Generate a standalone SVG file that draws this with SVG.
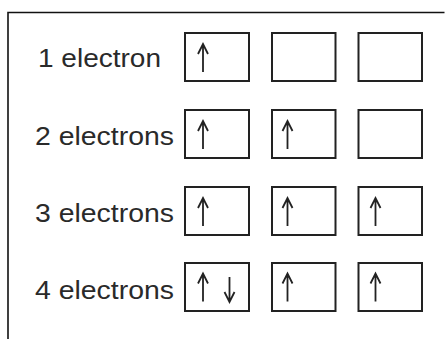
<svg xmlns="http://www.w3.org/2000/svg" width="445" height="339" viewBox="0 0 445 339">
<style>
.lbl{font-family:"Liberation Sans",Arial,sans-serif;font-size:26px;fill:#2a2a2a}
.box{fill:#fff;stroke:#222;stroke-width:2}
.arr{fill:none;stroke:#222;stroke-width:1.8;stroke-linejoin:miter}
.frame{fill:none;stroke:#111;stroke-width:1.6}
</style>
<defs>
<path id="up" class="arr" d="M0,0 V28 M-5,10 L0,0 L5,10"/>
<path id="dn" class="arr" d="M0,0 V25 M-5,15 L0,25 L5,15"/>
</defs>
<rect width="445" height="339" fill="#fff"/>
<g id="frame"><path class="frame" d="M8,339 V12.5 H444.5"/></g>
<g id="row1">
<text class="lbl" x="38" y="66.7" textLength="123" lengthAdjust="spacingAndGlyphs">1 electron</text>
<rect class="box" x="185" y="33" width="64" height="48"/>
<rect class="box" x="272" y="33" width="63.5" height="48"/>
<rect class="box" x="358.5" y="33" width="63.5" height="48"/>
<use href="#up" x="203" y="44"/>
</g>
<g id="row2">
<text class="lbl" x="35" y="144.7" textLength="139" lengthAdjust="spacingAndGlyphs">2 electrons</text>
<rect class="box" x="185" y="110" width="64" height="48"/>
<rect class="box" x="272" y="110" width="63.5" height="48"/>
<rect class="box" x="358.5" y="110" width="63.5" height="48"/>
<use href="#up" x="203" y="121"/>
<use href="#up" x="287.5" y="121"/>
</g>
<g id="row3">
<text class="lbl" x="35" y="221.7" textLength="139" lengthAdjust="spacingAndGlyphs">3 electrons</text>
<rect class="box" x="185" y="187" width="64" height="48"/>
<rect class="box" x="272" y="187" width="63.5" height="48"/>
<rect class="box" x="358.5" y="187" width="63.5" height="48"/>
<use href="#up" x="203" y="198"/>
<use href="#up" x="287.5" y="198"/>
<use href="#up" x="375.5" y="198"/>
</g>
<g id="row4">
<text class="lbl" x="35" y="299" textLength="139" lengthAdjust="spacingAndGlyphs">4 electrons</text>
<rect class="box" x="185" y="263" width="64" height="48"/>
<rect class="box" x="272" y="263" width="63.5" height="48"/>
<rect class="box" x="358.5" y="263" width="63.5" height="48"/>
<use href="#up" x="203" y="273.5"/>
<use href="#dn" x="229.5" y="277"/>
<use href="#up" x="287.5" y="273.5"/>
<use href="#up" x="375.5" y="273.5"/>
</g>
<g id="connectors"></g>
</svg>
